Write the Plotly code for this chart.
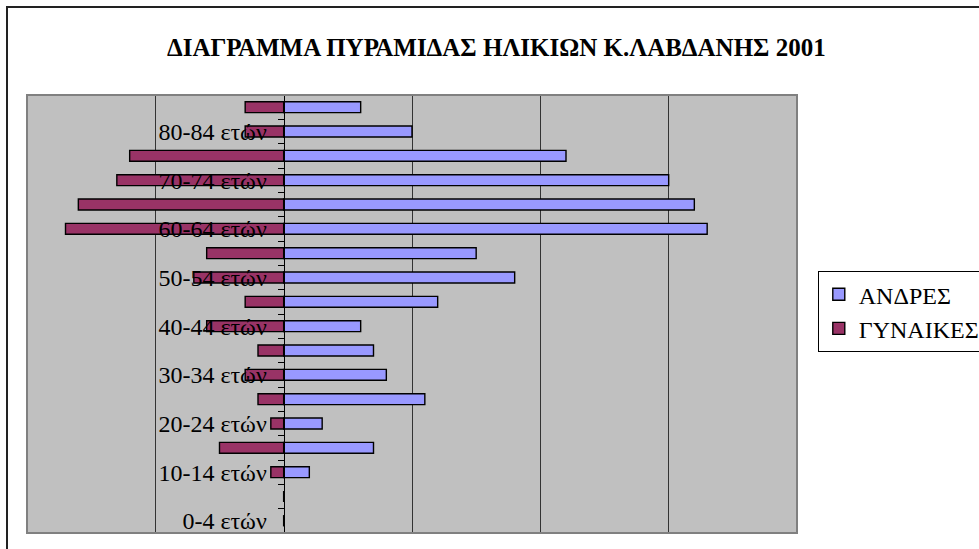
import plotly.graph_objects as go

# Age groups, bottom (0-4) to top (85+)
age_groups = ["0-4 ετών", "5-9 ετών", "10-14 ετών", "15-19 ετών", "20-24 ετών",
              "25-29 ετών", "30-34 ετών", "35-39 ετών", "40-44 ετών", "45-49 ετών",
              "50-54 ετών", "55-59 ετών", "60-64 ετών", "65-69 ετών", "70-74 ετών",
              "75-79 ετών", "80-84 ετών", "85+ ετών"]
men = [0, 0, 2, 7, 3, 11, 8, 7, 6, 12, 18, 15, 33, 32, 30, 22, 10, 6]
women = [0, 0, 1, 5, 1, 2, 3, 2, 6, 3, 7, 6, 17, 16, 13, 12, 3, 3]
series_names = ["ΑΝΔΡΕΣ", "ΓΥΝΑΙΚΕΣ"]
title_text = "ΔΙΑΓΡΑΜΜΑ ΠΥΡΑΜΙΔΑΣ ΗΛΙΚΙΩΝ Κ.ΛΑΒΔΑΝΗΣ 2001"

idx = list(range(len(age_groups)))
women_neg = [-v for v in women]

SERIF = "Liberation Serif"

fig = go.Figure()
fig.add_trace(go.Bar(
    y=idx, x=men, orientation="h", name=series_names[0], width=0.45,
    marker=dict(color="#9999FF", line=dict(color="black", width=1.4)),
    legendgroup="a"))
fig.add_trace(go.Bar(
    y=idx, x=women_neg, orientation="h", name=series_names[1], width=0.45,
    marker=dict(color="#993366", line=dict(color="black", width=1.4)),
    legendgroup="b"))

fig.update_layout(
    width=979, height=549,
    margin=dict(l=27, r=182, t=95, b=16, autoexpand=False),
    paper_bgcolor="white",
    plot_bgcolor="#C0C0C0",
    barmode="overlay",
    font=dict(family=SERIF, color="black"),
    title=dict(text="<b>" + title_text + "</b>", x=0.507, xref="container",
               xanchor="center", y=1 - 47 / 549, yref="container", yanchor="middle",
               font=dict(family=SERIF, size=25, color="black")),
    legend=dict(x=1.027, xanchor="left", y=0.598, yanchor="top",
                bordercolor="black", borderwidth=1, bgcolor="white",
                font=dict(family=SERIF, size=24, color="black"),
                tracegroupgap=14, traceorder="normal"),
    showlegend=True,
)

fig.update_xaxes(range=[-20, 40], tickvals=[-10, 10, 20, 30], showticklabels=False,
                 showgrid=True, gridcolor="#333333", gridwidth=1, zeroline=False,
                 showline=False, ticks="")

fig.update_yaxes(range=[-0.5, 17.5], tickmode="array",
                 tickvals=idx[::2], ticktext=age_groups[::2],
                 anchor="free", position=1 / 3, side="left",
                 showline=True, linecolor="black", linewidth=1.2,
                 showgrid=False, zeroline=False, ticks="",
                 ticklabelstandoff=12,
                 tickfont=dict(family=SERIF, size=24, color="black"),
                 minor=dict(tickmode="array", tickvals=[i - 0.5 for i in range(len(idx) + 1)],
                            ticks="outside", ticklen=6, tickcolor="black", tickwidth=1,
                            showgrid=False))

# plot area border
fig.add_shape(type="rect", xref="paper", yref="paper", x0=0, x1=1, y0=0, y1=1,
              line=dict(color="#808080", width=2), layer="above")
# outer chart border
fig.add_shape(type="rect", xref="paper", yref="paper",
              x0=(7 - 27) / 770, x1=1.3, y0=-0.1, y1=(533 - 7) / 438,
              line=dict(color="#222222", width=2), layer="above")

fig.write_html("out.html", config={"displayModeBar": False},
               post_script="document.body.style.margin='0';")
